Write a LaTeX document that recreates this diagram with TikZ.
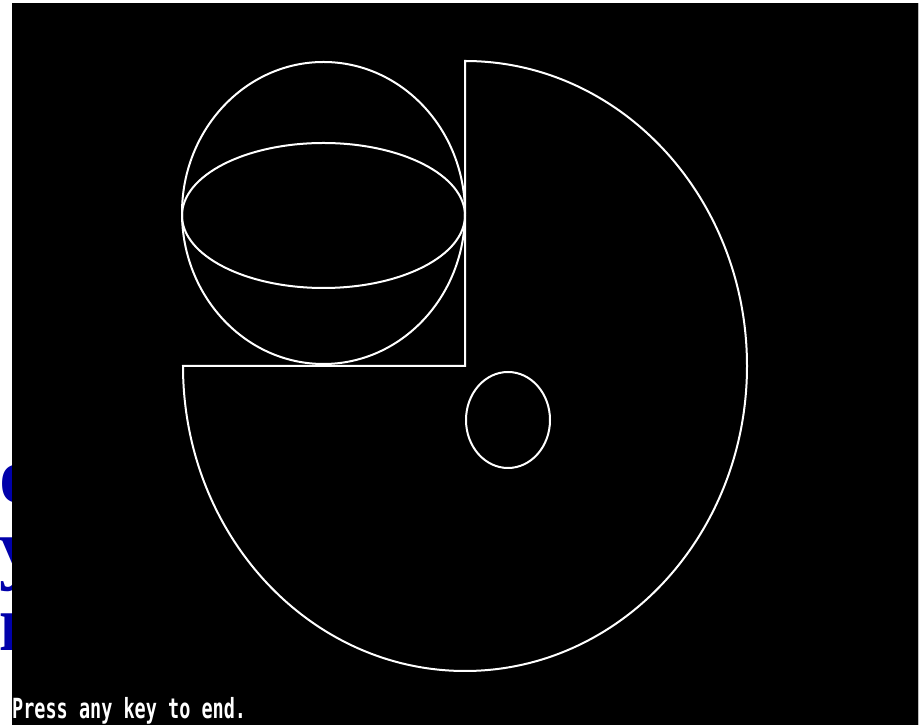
\documentclass[tikz,border=0pt]{standalone}
\usepackage{fontspec}
\setmainfont{Liberation Serif}
\newfontfamily\termfont{DejaVu Sans Mono}
\definecolor{slideblue}{RGB}{0,0,170}
\definecolor{edgegrey}{RGB}{190,190,190}
\begin{document}
\begin{tikzpicture}[x=1pt,y=1pt,
  wline/.style={draw=white,line width=2pt},
  blueletter/.style={text=slideblue,font=\bfseries\fontsize{80}{80}\selectfont,inner sep=0pt,anchor=base west}]
\useasboundingbox (0,0) rectangle (924,725);
\fill[white] (0,0) rectangle (924,725);
% blue letters partly hidden behind the screen
\node[blueletter] (l1) at (-1,222) {о};
\node[blueletter] (l2) at (-1,150) {у};
\node[blueletter] (l3) at (-1,74) {к};
% screen
\fill[black] (12,0) rectangle (917.5,722);
\draw[edgegrey,line width=1pt] (918.5,0) -- (918.5,722);
% pacman shape
\coordinate (pc) at (465,359);
\draw[wline] (pc) -- (465,664) arc[start angle=90,end angle=-180,x radius=282,y radius=305] -- cycle;
% sphere
\draw[wline] (323.5,512) ellipse[x radius=141.5,y radius=151];
\draw[wline] (323.5,509.5) ellipse[x radius=141.5,y radius=72.5];
% small circle
\draw[wline] (508,305) ellipse[x radius=42,y radius=48];
% prompt
\node[text=white,font=\termfont\bfseries\fontsize{18.5}{18.5}\selectfont,inner sep=0pt,anchor=base west,yscale=1.5] (msg) at (12,6) {Press any key to end.};
\end{tikzpicture}
\end{document}
